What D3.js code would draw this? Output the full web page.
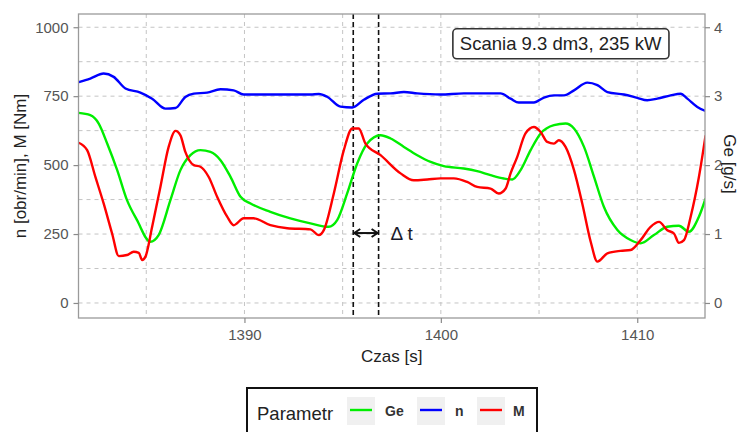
<!DOCTYPE html>
<html>
<head>
<meta charset="utf-8">
<script src="https://cdn.jsdelivr.net/npm/d3@7"></script>
<style>
  html, body { margin: 0; padding: 0; background: #fff; }
  svg { display: block; font-family: "Liberation Sans", Arial, sans-serif; }
</style>
</head>
<body>
<svg id="chart" width="739" height="432"></svg>
<script>
// Time axis [s]
const xTicks = [1390, 1400, 1410];
const xMinor = [1385, 1395, 1405];
const yTicks = [0, 250, 500, 750, 1000];
const yMinor = [125, 375, 625, 875];
const geTicks = [0, 1, 2, 3, 4];

// Engine speed n [obr/min]: [time, value]
const nSeries = [
  [1381.56, 801], [1382.15, 814], [1382.83, 832], [1383.34, 820], [1383.94, 778],
  [1384.70, 763], [1385.30, 741], [1385.98, 705], [1386.49, 707], [1386.99, 747],
  [1387.42, 759], [1388.10, 763], [1388.78, 775], [1389.45, 771], [1389.96, 756],
  [1391.37, 756], [1393.36, 756], [1393.79, 758], [1394.21, 748], [1394.89, 712],
  [1395.49, 709], [1396.08, 737], [1396.76, 759], [1397.44, 760], [1398.12, 765],
  [1398.80, 760], [1399.98, 756], [1401.17, 760], [1403.04, 760], [1403.55, 741],
  [1403.97, 727], [1404.74, 727], [1405.25, 745], [1405.76, 753], [1406.27, 753],
  [1406.78, 771], [1407.46, 799], [1407.97, 790], [1408.48, 765], [1409.32, 756],
  [1410.00, 744], [1410.51, 735], [1411.02, 741], [1411.70, 753], [1412.21, 759],
  [1412.55, 741], [1413.06, 711], [1413.48, 696]
];

// Torque M [Nm]: [time, value]
const mSeries = [
  [1381.56, 581], [1381.99, 554], [1382.41, 457], [1382.83, 361], [1383.26, 252],
  [1383.60, 170], [1384.02, 174], [1384.36, 186], [1384.62, 182], [1384.79, 156],
  [1384.96, 168], [1385.30, 276], [1385.72, 421], [1386.14, 566], [1386.49, 624],
  [1386.74, 608], [1386.99, 548], [1387.42, 500], [1387.76, 494], [1388.18, 457],
  [1388.61, 385], [1389.12, 313], [1389.45, 282], [1389.96, 307], [1390.47, 307],
  [1391.32, 282], [1392.18, 271], [1393.36, 267], [1393.79, 246], [1394.04, 264],
  [1394.55, 397], [1395.06, 554], [1395.49, 633], [1395.82, 633], [1396.16, 578],
  [1396.93, 536], [1397.95, 470], [1398.62, 445], [1399.31, 448], [1399.98, 452],
  [1400.66, 452], [1401.34, 439], [1401.85, 421], [1402.53, 415], [1402.95, 397],
  [1403.30, 415], [1403.55, 470], [1403.89, 530], [1404.31, 615], [1404.74, 638],
  [1405.08, 620], [1405.42, 584], [1405.76, 578], [1406.01, 590], [1406.35, 566],
  [1406.78, 482], [1407.20, 361], [1407.63, 222], [1407.97, 150], [1408.48, 180],
  [1409.15, 189], [1409.66, 192], [1410.17, 228], [1410.68, 276], [1411.11, 294],
  [1411.53, 264], [1411.87, 252], [1412.12, 218], [1412.38, 228], [1412.72, 313],
  [1413.14, 457], [1413.48, 608]
];

// Fuel flow Ge [g/s]: [time, value]
const geSeries = [
  [1381.56, 2.757], [1382.15, 2.724], [1382.58, 2.603], [1383.01, 2.314], [1383.52, 1.927],
  [1384.02, 1.492], [1384.53, 1.202], [1385.21, 0.888], [1385.63, 0.985], [1386.23, 1.492],
  [1386.74, 1.927], [1387.25, 2.144], [1387.76, 2.217], [1388.27, 2.192], [1388.78, 2.072],
  [1389.29, 1.830], [1389.80, 1.540], [1390.31, 1.444], [1391.32, 1.323], [1392.34, 1.227],
  [1393.36, 1.155], [1394.29, 1.105], [1394.72, 1.202], [1395.23, 1.589], [1395.74, 2.024],
  [1396.25, 2.314], [1396.93, 2.434], [1397.44, 2.386], [1398.12, 2.264], [1398.80, 2.144],
  [1399.48, 2.047], [1400.15, 1.985], [1401.17, 1.951], [1401.85, 1.912], [1402.53, 1.854],
  [1403.21, 1.806], [1403.64, 1.792], [1404.06, 1.927], [1404.57, 2.217], [1405.08, 2.458],
  [1405.76, 2.579], [1406.35, 2.603], [1406.78, 2.531], [1407.29, 2.264], [1407.80, 1.830],
  [1408.30, 1.395], [1408.99, 1.058], [1409.66, 0.913], [1410.17, 0.865], [1410.85, 0.985],
  [1411.53, 1.105], [1412.12, 1.120], [1412.63, 1.033], [1413.14, 1.251], [1413.48, 1.517]
];

// Delay markers Δt [s]
const deltaT = [1395.54, 1396.83];

const labelText = "Scania 9.3 dm3, 235 kW";
const legendItems = [
  { key: "Ge", color: "#00ee00" },
  { key: "n", color: "#0000ff" },
  { key: "M", color: "#ff0000" }
];
const colorOf = { Ge: "#00ee00", n: "#0000ff", M: "#ff0000" };

const svg = d3.select("#chart");
const panel = { left: 78.5, right: 705, top: 14, bottom: 318 };

const x = d3.scaleLinear().domain([1381.55, 1413.45]).range([panel.left, panel.right]);
const y = d3.scaleLinear().domain([-54.5, 1048]).range([panel.bottom, panel.top]);
const yGe = d3.scaleLinear().domain([-54.5 / 250, 1048 / 250]).range([panel.bottom, panel.top]);

svg.append("defs").append("clipPath").attr("id", "clip")
  .append("rect")
  .attr("x", panel.left).attr("y", panel.top)
  .attr("width", panel.right - panel.left).attr("height", panel.bottom - panel.top);

// panel background
svg.append("rect")
  .attr("x", panel.left).attr("y", panel.top)
  .attr("width", panel.right - panel.left).attr("height", panel.bottom - panel.top)
  .attr("fill", "#fff");

// dashed grid
const grid = svg.append("g").attr("stroke", "#c4c4c4").attr("stroke-width", 1)
  .attr("stroke-dasharray", "4,4").attr("fill", "none");
xTicks.concat(xMinor).forEach(t => {
  grid.append("line").attr("x1", x(t)).attr("x2", x(t))
    .attr("y1", panel.top).attr("y2", panel.bottom);
});
yTicks.concat(yMinor).forEach(v => {
  grid.append("line").attr("y1", y(v)).attr("y2", y(v))
    .attr("x1", panel.left).attr("x2", panel.right);
});

// Δt markers
const marks = svg.append("g").attr("clip-path", "url(#clip)");
deltaT.forEach(t => {
  marks.append("line").attr("x1", x(t)).attr("x2", x(t))
    .attr("y1", panel.top).attr("y2", panel.bottom)
    .attr("stroke", "#111").attr("stroke-width", 1.6).attr("stroke-dasharray", "5,3");
});

// series lines
const lineLeft = d3.line().x(d => x(d[0])).y(d => y(d[1])).curve(d3.curveMonotoneX);
const lineGe = d3.line().x(d => x(d[0])).y(d => yGe(d[1])).curve(d3.curveMonotoneX);
const lines = svg.append("g").attr("clip-path", "url(#clip)")
  .attr("fill", "none").attr("stroke-width", 2.4).attr("stroke-linejoin", "round");
lines.append("path").datum(geSeries).attr("d", lineGe).attr("stroke", colorOf.Ge);
lines.append("path").datum(nSeries).attr("d", lineLeft).attr("stroke", colorOf.n);
lines.append("path").datum(mSeries).attr("d", lineLeft).attr("stroke", colorOf.M);

// panel border
svg.append("rect")
  .attr("x", panel.left).attr("y", panel.top)
  .attr("width", panel.right - panel.left).attr("height", panel.bottom - panel.top)
  .attr("fill", "none").attr("stroke", "#9a9a9a").attr("stroke-width", 1.3);

// axes
function styleAxis(g) {
  g.select(".domain").remove();
  g.selectAll(".tick line").attr("stroke", "#8a8a8a").attr("stroke-width", 1.2);
  g.selectAll(".tick text").attr("fill", "#555").attr("font-size", "15px")
    .attr("font-family", "'Liberation Sans', Arial, sans-serif");
}
svg.append("g").attr("transform", `translate(0,${panel.bottom})`)
  .call(d3.axisBottom(x).tickValues(xTicks).tickFormat(d3.format("d")).tickSize(5).tickPadding(6))
  .call(styleAxis);
svg.append("g").attr("transform", `translate(${panel.left},0)`)
  .call(d3.axisLeft(y).tickValues(yTicks).tickFormat(d3.format("d")).tickSize(5).tickPadding(5))
  .call(styleAxis);
svg.append("g").attr("transform", `translate(${panel.right},0)`)
  .call(d3.axisRight(yGe).tickValues(geTicks).tickFormat(d3.format("d")).tickSize(5).tickPadding(4))
  .call(styleAxis);

// axis titles
svg.append("text").attr("x", (panel.left + panel.right) / 2).attr("y", 362)
  .attr("text-anchor", "middle").attr("font-size", "17px").attr("fill", "#222")
  .text("Czas [s]");
svg.append("text")
  .attr("transform", `translate(26,${(panel.top + panel.bottom) / 2}) rotate(-90)`)
  .attr("text-anchor", "middle").attr("font-size", "17px").attr("fill", "#222")
  .text("n [obr/min], M [Nm]");
svg.append("text")
  .attr("transform", `translate(724,${(panel.top + panel.bottom) / 2 - 2}) rotate(90)`)
  .attr("text-anchor", "middle").attr("font-size", "17px").attr("fill", "#222")
  .text("Ge [g/s]");

// Δt arrow and label
const ay = y(250) - 1;
const ax1 = x(deltaT[0]) + 1, ax2 = x(deltaT[1]) - 1;
const arrow = svg.append("g").attr("stroke", "#111").attr("stroke-width", 2).attr("fill", "none");
arrow.append("line").attr("x1", ax1).attr("x2", ax2).attr("y1", ay).attr("y2", ay);
arrow.append("path").attr("d", `M${ax1 + 6},${ay - 4}L${ax1},${ay}L${ax1 + 6},${ay + 4}`);
arrow.append("path").attr("d", `M${ax2 - 6},${ay - 4}L${ax2},${ay}L${ax2 - 6},${ay + 4}`);
svg.append("text").attr("x", x(1397.44)).attr("y", ay + 7)
  .attr("font-size", "19px").attr("fill", "#1a1a2a").text("Δ t");

// engine label
const lx = x(1406.1), ly = y(940);
const lbl = svg.append("g");
const lt = lbl.append("text").attr("x", lx).attr("y", ly + 6)
  .attr("text-anchor", "middle").attr("font-size", "18.5px").attr("fill", "#222")
  .text(labelText);
const bb = lt.node().getBBox();
lbl.insert("rect", "text")
  .attr("x", bb.x - 7).attr("y", ly - 15).attr("width", bb.width + 14).attr("height", 30)
  .attr("rx", 4).attr("fill", "#fff").attr("stroke", "#333").attr("stroke-width", 1.6);

// legend
const lg = svg.append("g");
lg.append("rect").attr("x", 247).attr("y", 388).attr("width", 290).attr("height", 60)
  .attr("fill", "#fff").attr("stroke", "#111").attr("stroke-width", 2);
lg.append("text").attr("x", 257).attr("y", 420).attr("font-size", "18.5px").attr("fill", "#222")
  .text("Parametr");
const keyX = [347, 417, 477];
const labX = [385, 455, 513];
legendItems.forEach((d, i) => {
  lg.append("rect").attr("x", keyX[i]).attr("y", 397).attr("width", 28).attr("height", 28)
    .attr("fill", "#f0f0f0");
  lg.append("line").attr("x1", keyX[i] + 3).attr("x2", keyX[i] + 25)
    .attr("y1", 410).attr("y2", 410).attr("stroke", d.color).attr("stroke-width", 2.4);
  lg.append("text").attr("x", labX[i]).attr("y", 416).attr("font-size", "14px")
    .attr("font-weight", "bold").attr("fill", "#333").text(d.key);
});
</script>
</body>
</html>
